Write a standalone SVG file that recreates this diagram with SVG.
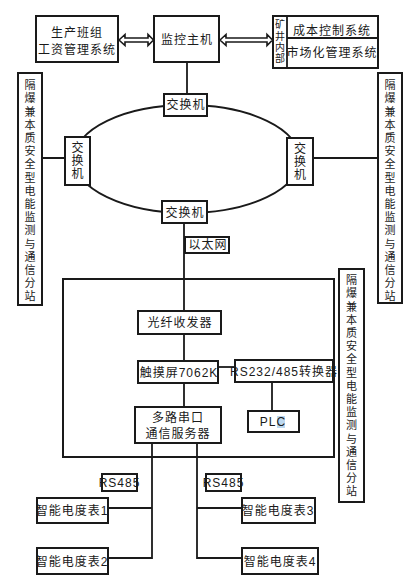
<svg xmlns="http://www.w3.org/2000/svg" width="416" height="582" viewBox="0 0 416 582">
<style>
.b{fill:#fff;stroke:#1a1a1a;stroke-width:2}
.l{fill:none;stroke:#1a1a1a;stroke-width:1.8}
.t{font-family:"Liberation Sans","Noto Sans CJK SC",sans-serif;font-size:12px;fill:#1a1a1a;text-anchor:middle;letter-spacing:1px}
.v{font-family:"Noto Sans CJK SC",sans-serif;font-size:11px;fill:#1a1a1a;writing-mode:vertical-rl;letter-spacing:2.2px}
.s{font-family:"Noto Sans CJK SC",sans-serif;font-size:12px;fill:#1a1a1a;writing-mode:vertical-rl;letter-spacing:1px}
.m{font-family:"Noto Sans CJK SC",sans-serif;font-size:10px;fill:#1a1a1a;writing-mode:vertical-rl;letter-spacing:1.3px}
.a{fill:#fff;stroke:#1a1a1a;stroke-width:1.6;stroke-linejoin:miter}
</style>
<rect width="416" height="582" fill="#fff"/>
<g id="connectors">
<ellipse cx="187" cy="159" rx="113" ry="54" class="l" stroke-width="1.5"/>
<polygon class="a" points="119,40 125,34.5 125,38 148,38 148,34.5 153.5,40 148,45.5 148,42 125,42 125,45.5"/>
<polygon class="a" points="220,40 226,34.5 226,38 267,38 267,34.5 272.5,40 267,45.5 267,42 226,42 226,45.5"/>
<path class="l" d="M187,62V95"/>
<path class="l" d="M42,158H65M313,158H378"/>
<path class="l" d="M184,223V311M184,334V361M184,383V407"/>
<path class="l" d="M218,367H235" stroke-width="3"/>
<path class="l" d="M272,382V411"/>
<path class="l" d="M152,443V558H108M152,508H108"/>
<path class="l" d="M197,443V558H242M197,508H242"/>
</g>
<g id="big-frame"><rect x="63" y="279" width="271" height="178" fill="none" stroke="#1a1a1a" stroke-width="2"/></g>
<g id="payroll">
<rect x="36" y="16" width="82" height="46" class="b"/>
<text class="t" x="77" y="37">生产班组</text>
<text class="t" x="77" y="54">工资管理系统</text>
</g>
<g id="host">
<rect x="154" y="16" width="65" height="46" class="b"/>
<text class="t" x="187" y="44">监控主机</text>
</g>
<g id="mine-internal">
<rect x="273" y="16" width="105" height="52" class="b"/>
<path class="l" d="M287,16V68M287,38H378" stroke-width="2"/>
<text class="m" x="280" y="19.5">矿井内部</text>
<text class="t" x="332" y="35">成本控制系统</text>
<text class="t" x="332" y="57">市场化管理系统</text>
</g>
<g id="switch-top">
<rect x="164" y="94" width="43" height="22" class="b"/>
<text class="t" x="186" y="109">交换机</text>
</g>
<g id="switch-left">
<rect x="65" y="137" width="25" height="48" class="b"/>
<text class="s" x="77.5" y="141.5">交换机</text>
</g>
<g id="switch-right">
<rect x="287" y="138" width="26" height="47" class="b"/>
<text class="s" x="300" y="142.5">交换机</text>
</g>
<g id="switch-bottom">
<rect x="162" y="201" width="45" height="22" class="b"/>
<text class="t" x="185" y="217">交换机</text>
</g>
<g id="ethernet">
<rect x="185" y="237" width="44" height="16" class="b"/>
<text class="t" x="208" y="249">以太网</text>
</g>
<g id="station-left">
<rect x="18" y="73" width="24" height="232" class="b"/>
<text class="v" x="30" y="79.5">隔爆兼本质安全型电能监测与通信分站</text>
</g>
<g id="station-right-top">
<rect x="378" y="73" width="24" height="230" class="b"/>
<text class="v" x="390" y="79.5">隔爆兼本质安全型电能监测与通信分站</text>
</g>
<g id="station-right-bottom">
<rect x="339" y="269" width="25" height="233" class="b"/>
<text class="v" x="351.5" y="274.5">隔爆兼本质安全型电能监测与通信分站</text>
</g>
<g id="fiber">
<rect x="138" y="311" width="83" height="23" class="b"/>
<text class="t" x="180" y="327">光纤收发器</text>
</g>
<g id="touch">
<rect x="138" y="361" width="80" height="22" class="b"/>
<text class="t" x="179" y="377" letter-spacing="0">触摸屏7062K</text>
</g>
<g id="converter">
<rect x="235" y="360" width="98" height="22" class="b"/>
<text class="t" x="284" y="376" letter-spacing="0">RS232/485转换器</text>
</g>
<g id="plc">
<rect x="248" y="411" width="51" height="21" class="b"/>
<rect x="277" y="416" width="8" height="12" fill="#bcd8f0"/>
<text class="t" x="273" y="426" letter-spacing="0">PLC</text>
</g>
<g id="serial-server">
<rect x="135" y="407" width="86" height="36" class="b"/>
<text class="t" x="178" y="422">多路串口</text>
<text class="t" x="178" y="438">通信服务器</text>
</g>
<g id="rs485-left">
<rect x="102" y="474" width="35" height="17" class="b"/>
<text class="t" x="119.5" y="487" letter-spacing="0">RS485</text>
</g>
<g id="rs485-right">
<rect x="206" y="474" width="35" height="17" class="b"/>
<text class="t" x="223.5" y="487" letter-spacing="0">RS485</text>
</g>
<g id="meter1">
<rect x="37" y="498" width="71" height="25" class="b"/>
<text class="t" x="72" y="515">智能电度表1</text>
</g>
<g id="meter2">
<rect x="37" y="548" width="71" height="26" class="b"/>
<text class="t" x="72" y="566">智能电度表2</text>
</g>
<g id="meter3">
<rect x="242" y="498" width="73" height="25" class="b"/>
<text class="t" x="278" y="515">智能电度表3</text>
</g>
<g id="meter4">
<rect x="242" y="548" width="76" height="26" class="b"/>
<text class="t" x="280" y="566">智能电度表4</text>
</g>
</svg>
